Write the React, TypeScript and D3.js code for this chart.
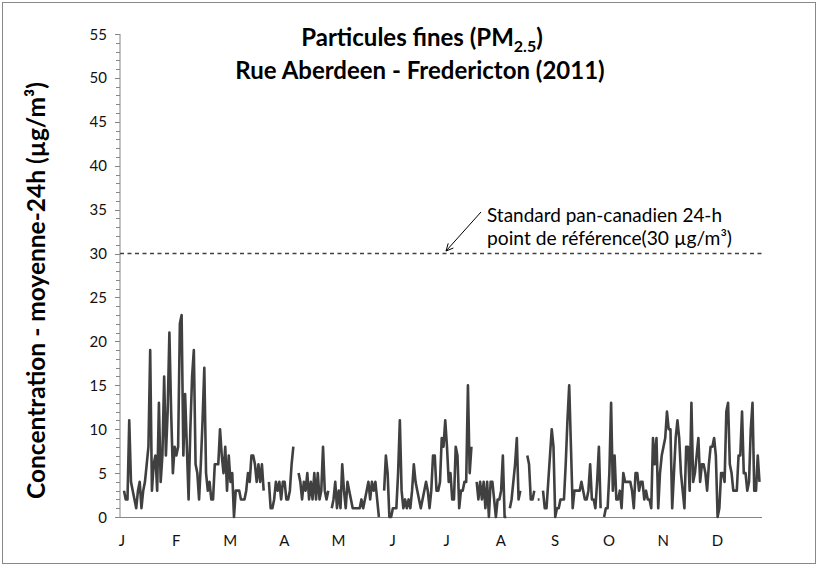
import React from "react";
import * as d3 from "d3";

// ---- data ----
const monthLabels = ["J", "F", "M", "A", "M", "J", "J", "A", "S", "O", "N", "D"];
const labelEvery = 31; // category interval between month labels
const yTicks = [0, 5, 10, 15, 20, 25, 30, 35, 40, 45, 50, 55];
const standardValue = 30;
const N = null;
// daily 24-h mean PM2.5 (µg/m³), 2011, null = missing
const dailyPM25: (number | null)[] = [
  3, 2, 2, 11, 4, 3, 2, 1, 3, 4,
  1, 3, 4, 6, 8, 19, 3, 6, 7, 3,
  13, 4, 7, 16, 7, 12, 21, 12, 5, 8,
  7, 8, 22, 23, 7, 14, 8, 2, 10, 16,
  19, 6, 5, 2, 6, 11, 17, 5, 3, 4,
  2, 2, 6, 6, 6, 10, 7, 5, 8, 3,
  7, 4, 5, 0, 3, 3, 3, 2, 2, 2,
  3, 5, 4, 7, 7, 6, 4, 6, 4, 6,
  3, N, N, 4, 1, 1, 2, 4, 3, 4,
  2, 4, 4, 2, 2, 3, 6, 8, N, N,
  5, 4, 2, 4, 3, 5, 2, 4, 2, 5,
  2, 5, 2, 3, 8, 3, 2, 3, N, 1,
  2, 4, 1, 3, 1, 6, 3, 1, 4, 3,
  2, 1, 1, 1, 1, 1, 2, 1, 2, 3,
  4, 2, 4, 3, 4, 2, 0, N, N, 3,
  7, 5, 0, 0, 1, 1, 1, 5, 11, 3,
  1, 2, 1, 2, 1, 3, 6, 4, 3, 2,
  1, 2, 3, 4, 3, 1, 3, 7, 7, 3,
  3, 4, 9, 8, 11, 8, 4, 5, 2, 2,
  8, 7, 1, 3, 3, 4, 4, 15, 5, 8,
  N, N, 4, 2, 4, 2, 4, 1, 4, 0,
  4, 4, 2, 0, 2, 2, 3, 7, 0, 0,
  N, 1, 2, 4, 6, 9, 2, 3, N, N,
  N, 7, 6, 2, 2, 3, N, 2, 2, N,
  3, 1, 1, 4, 7, 10, 8, 0, 1, 1,
  2, 2, 2, 6, 11, 15, 8, 1, 3, 3,
  3, 3, 4, 3, 2, 2, 3, 6, 2, 2,
  1, 4, 8, 1, N, 0, 1, 1, 5, 13,
  3, 7, 2, 2, 3, 1, 5, 4, 4, 4,
  4, 3, 1, 5, 5, 3, 4, 4, 2, 3,
  2, 2, 1, 9, 6, 9, 1, 5, 7, 8,
  9, 12, 10, 10, 1, 5, 9, 11, 9, 5,
  3, 1, 8, 8, 3, 13, 4, 5, 7, 9,
  4, 6, 6, 5, 3, 6, 8, 8, 9, 7,
  0, 1, 5, 5, 4, 12, 13, 6, 5, 3,
  3, 3, 7, 7, 12, 5, 5, 3, 4, 10,
  13, 3, 3, 7, 4,
];

const titleLine1 = "Particules fines (PM";
const titleSub = "2.5";
const titleLine2 = "Rue Aberdeen - Fredericton (2011)";
const yAxisTitle = "Concentration - moyenne-24h (µg/m³)";
const noteLine1 = "Standard pan-canadien 24-h";
const noteLine2 = "point de référence(30 µg/m³)";

const FONT = "Lato, 'Open Sans', sans-serif";

export default function App() {
  const W = 818;
  const H = 566;
  const plotLeft = 120;
  const plotRight = 762;
  const plotTop = 34;
  const plotBottom = 517;

  const x = d3
    .scaleLinear()
    .domain([0, dailyPM25.length - 1])
    .range([124, 759.5]);
  const y = d3.scaleLinear().domain([0, 55]).range([plotBottom, plotTop]);

  const line = d3
    .line<number | null>()
    .defined((d) => d !== null)
    .x((_, i) => x(i))
    .y((d) => y(d as number));

  const minorTicks = d3.range(0, 56, 1);
  const yStd = y(standardValue);

  // arrow from note to dashed line
  const ax1 = 481, ay1 = 212, ax2 = 446, ay2 = yStd - 2.5;
  const ang = Math.atan2(ay2 - ay1, ax2 - ax1);
  const hl = 8;
  const head = (a: number) =>
    `${ax2 - hl * Math.cos(ang + a)},${ay2 - hl * Math.sin(ang + a)}`;

  return (
    <svg
      width={W}
      height={H}
      style={{ position: "absolute", left: 0, top: 0, background: "#fff" }}
      fontFamily={FONT}
    >
      <rect x={2.5} y={2.5} width={W - 5} height={H - 5} fill="#fff" stroke="#888" strokeWidth={1} />

      {/* title */}
      <text x={422} y={46} textAnchor="middle" fontSize={24} fontWeight="bold" fill="#000">
        {titleLine1}
        <tspan fontSize={16} dy={6}>{titleSub}</tspan>
        <tspan dy={-6}>)</tspan>
      </text>
      <text x={420} y={79} textAnchor="middle" fontSize={24} fontWeight="bold" fill="#000">
        {titleLine2}
      </text>

      {/* y axis title */}
      <text
        transform={`translate(45, ${(plotTop + plotBottom) / 2 + 15}) rotate(-90)`}
        textAnchor="middle"
        fontSize={24.5}
        fontWeight="bold"
        fill="#000"
      >
        {yAxisTitle}
      </text>

      {/* y axis */}
      <line x1={plotLeft} x2={plotLeft} y1={plotTop} y2={plotBottom} stroke="#868686" strokeWidth={1} />
      {minorTicks.map((t) => (
        <line
          key={"m" + t}
          x1={plotLeft - (t % 5 === 0 ? 5 : 4)}
          x2={plotLeft}
          y1={Math.round(y(t)) + 0.5}
          y2={Math.round(y(t)) + 0.5}
          stroke="#868686"
          strokeWidth={1}
        />
      ))}
      {yTicks.map((t) => (
        <text key={"yl" + t} x={107} y={y(t) + 5.5} textAnchor="end" fontSize={15} fill="#111">
          {t}
        </text>
      ))}

      {/* x axis */}
      <line x1={plotLeft} x2={plotRight} y1={plotBottom + 0.5} y2={plotBottom + 0.5} stroke="#868686" strokeWidth={1} />
      {monthLabels.map((m, i) => (
        <text key={"xl" + i} x={x(i * labelEvery) - 2} y={546} textAnchor="middle" fontSize={15} fill="#111">
          {m}
        </text>
      ))}

      {/* standard line */}
      <line
        x1={plotLeft}
        x2={plotRight}
        y1={yStd}
        y2={yStd}
        stroke="#404040"
        strokeWidth={1.4}
        strokeDasharray="4 3.5"
      />

      {/* annotation */}
      <line x1={ax1} y1={ay1} x2={ax2} y2={ay2} stroke="#000" strokeWidth={1} />
      <polyline points={`${head(0.45)} ${ax2},${ay2} ${head(-0.45)}`} fill="none" stroke="#000" strokeWidth={1} />
      <text x={487} y={222} fontSize={19} fill="#000" textLength={235} lengthAdjust="spacingAndGlyphs">{noteLine1}</text>
      <text x={487} y={245} fontSize={19} fill="#000" textLength={245} lengthAdjust="spacingAndGlyphs">{noteLine2}</text>

      {/* data */}
      <path d={line(dailyPM25) || ""} fill="none" stroke="#404040" strokeWidth={2.6} strokeLinejoin="round" />
    </svg>
  );
}
